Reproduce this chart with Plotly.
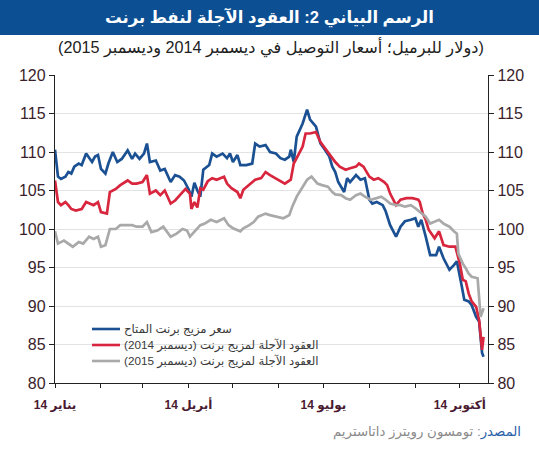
import plotly.graph_objects as go

# ---- data ----
blue_dates = [
    "2014-01-01","2014-01-03","2014-01-05","2014-01-08","2014-01-10","2014-01-12","2014-01-14","2014-01-17","2014-01-19","2014-01-22","2014-01-26","2014-01-28","2014-01-30",
    "2014-02-01","2014-02-04","2014-02-06","2014-02-09","2014-02-12","2014-02-15","2014-02-19","2014-02-22","2014-02-24","2014-02-27",
    "2014-03-02","2014-03-04","2014-03-06","2014-03-10","2014-03-13","2014-03-16","2014-03-20","2014-03-23","2014-03-26","2014-03-29",
    "2014-04-01","2014-04-03","2014-04-05","2014-04-07","2014-04-09","2014-04-11","2014-04-15","2014-04-17","2014-04-20","2014-04-24","2014-04-27","2014-04-29",
    "2014-05-01","2014-05-04","2014-05-06","2014-05-10","2014-05-14","2014-05-16","2014-05-19","2014-05-23","2014-05-26","2014-05-30",
    "2014-06-02","2014-06-05","2014-06-08","2014-06-09","2014-06-11","2014-06-13","2014-06-17","2014-06-20","2014-06-22","2014-06-26","2014-06-29",
    "2014-07-02","2014-07-05","2014-07-07","2014-07-09","2014-07-11","2014-07-15","2014-07-17","2014-07-19","2014-07-23","2014-07-26","2014-07-29",
    "2014-08-01","2014-08-03","2014-08-06","2014-08-10","2014-08-12","2014-08-15","2014-08-19","2014-08-22","2014-08-25","2014-08-29",
    "2014-09-01","2014-09-03","2014-09-05","2014-09-08","2014-09-11","2014-09-15","2014-09-17","2014-09-20","2014-09-24","2014-09-27","2014-09-29",
    "2014-10-02","2014-10-04","2014-10-07","2014-10-09","2014-10-12","2014-10-14","2014-10-16","2014-10-17",
]
blue_values = [
    110.3, 106.8, 106.5, 106.8, 107.4, 107.2, 108.1, 108.5, 108.3, 109.8, 108.7, 109.4, 109.6,
    107.8, 107.2, 108.5, 110.0, 108.7, 109.1, 110.2, 109.1, 109.8, 109.1,
    109.8, 111.1, 108.7, 108.9, 107.6, 107.8, 106.1, 107.0, 106.8, 106.3,
    105.2, 104.2, 106.0, 105.0, 104.2, 107.7, 108.3, 109.8, 109.4, 109.8, 109.2, 109.8,
    108.7, 109.6, 108.3, 108.3, 108.5, 111.1, 110.7, 110.9, 110.0, 109.8,
    109.2, 109.0, 109.4, 110.3, 108.7, 112.0, 113.7, 115.5, 114.2, 113.3, 111.1,
    110.3, 109.4, 108.1, 107.4, 106.1, 104.8, 106.6, 106.1, 107.0, 106.4, 106.6,
    103.8, 103.3, 103.5, 103.1, 102.3, 100.5, 99.0, 100.3, 101.0, 101.2,
    101.4, 100.3, 101.2, 99.0, 96.6, 96.6, 97.7, 96.2, 94.7, 95.3, 95.8,
    92.9, 90.8, 90.6, 90.1, 88.6, 88.0, 83.9, 83.4,
]

red_dates = [
    "2014-01-01","2014-01-03","2014-01-05","2014-01-08","2014-01-10","2014-01-12","2014-01-15","2014-01-19","2014-01-22","2014-01-25","2014-01-27","2014-01-30",
    "2014-02-01","2014-02-05","2014-02-07","2014-02-11","2014-02-14","2014-02-19","2014-02-22","2014-02-25",
    "2014-03-01","2014-03-04","2014-03-06","2014-03-10","2014-03-13","2014-03-16","2014-03-20","2014-03-23","2014-03-26","2014-03-30",
    "2014-04-02","2014-04-03","2014-04-05","2014-04-07","2014-04-09","2014-04-11","2014-04-14","2014-04-17","2014-04-20","2014-04-25","2014-04-27","2014-04-30",
    "2014-05-04","2014-05-06","2014-05-08","2014-05-12","2014-05-16","2014-05-20","2014-05-23","2014-05-26","2014-05-30",
    "2014-06-02","2014-06-05","2014-06-09","2014-06-11","2014-06-14","2014-06-17","2014-06-19","2014-06-22","2014-06-26","2014-06-29",
    "2014-07-02","2014-07-06","2014-07-09","2014-07-12","2014-07-16","2014-07-19","2014-07-23","2014-07-25","2014-07-28",
    "2014-08-01","2014-08-04","2014-08-07","2014-08-11","2014-08-13","2014-08-15","2014-08-19","2014-08-22","2014-08-26","2014-08-30",
    "2014-09-03","2014-09-04","2014-09-06","2014-09-08","2014-09-10","2014-09-14","2014-09-17","2014-09-20","2014-09-24","2014-09-28",
    "2014-10-01","2014-10-03","2014-10-05","2014-10-07","2014-10-09","2014-10-12","2014-10-14","2014-10-16","2014-10-17",
]
red_values = [
    106.3, 103.5, 103.1, 103.5, 103.1, 102.6, 102.4, 102.6, 103.5, 103.3, 103.1, 103.5,
    102.2, 102.0, 104.8, 105.2, 105.7, 106.3, 105.9, 105.9,
    106.1, 107.0, 104.6, 105.0, 104.4, 105.0, 103.3, 103.7, 104.4, 105.2,
    104.6, 102.6, 103.5, 102.8, 105.3, 105.1, 106.2, 106.6, 106.4, 106.8, 105.9, 105.3,
    104.8, 104.0, 105.1, 105.7, 106.4, 106.6, 107.4, 107.0, 106.6,
    106.2, 105.9, 106.4, 108.5, 109.6, 110.7, 112.4, 112.4, 112.6, 111.3,
    110.5, 109.4, 108.7, 108.1, 107.7, 107.9, 108.1, 108.5, 108.1,
    106.8, 106.4, 106.6, 106.1, 105.7, 104.6, 103.1, 103.8, 104.0, 104.0,
    103.8, 103.5, 102.0, 101.2, 99.9, 98.8, 99.7, 97.9, 97.7, 97.7,
    95.5, 93.4, 93.2, 91.6, 90.6, 89.9, 88.2, 84.3, 86.0,
]

gray_dates = [
    "2014-01-01","2014-01-03","2014-01-07","2014-01-10","2014-01-13","2014-01-17","2014-01-20","2014-01-24","2014-01-27","2014-01-30",
    "2014-02-01","2014-02-04","2014-02-07","2014-02-11","2014-02-14","2014-02-18","2014-02-22","2014-02-25",
    "2014-03-01","2014-03-04","2014-03-07","2014-03-11","2014-03-15","2014-03-20","2014-03-24","2014-03-28","2014-03-31",
    "2014-04-02","2014-04-06","2014-04-09","2014-04-12","2014-04-16","2014-04-20","2014-04-25","2014-04-28",
    "2014-05-01","2014-05-06","2014-05-08","2014-05-12","2014-05-15","2014-05-18","2014-05-23","2014-05-26","2014-05-31",
    "2014-06-04","2014-06-08","2014-06-10","2014-06-13","2014-06-17","2014-06-20","2014-06-23","2014-06-27","2014-06-30",
    "2014-07-04","2014-07-07","2014-07-09","2014-07-13","2014-07-16","2014-07-19","2014-07-23","2014-07-26","2014-07-29",
    "2014-08-02","2014-08-05","2014-08-09","2014-08-12","2014-08-15","2014-08-19","2014-08-22","2014-08-25","2014-08-29",
    "2014-09-01","2014-09-05","2014-09-08","2014-09-11","2014-09-15","2014-09-17","2014-09-20","2014-09-24","2014-09-27","2014-09-29","2014-09-30",
    "2014-10-03","2014-10-05","2014-10-07","2014-10-09","2014-10-13","2014-10-15","2014-10-17",
]
gray_values = [
    99.7, 98.1, 98.5, 98.1, 97.7, 98.3, 98.1, 99.0, 98.7, 99.0,
    97.7, 97.9, 100.0, 100.0, 100.5, 100.5, 100.5, 100.3,
    100.3, 100.9, 99.6, 99.8, 100.3, 99.0, 99.4, 100.0, 99.8,
    99.0, 99.8, 100.5, 100.7, 101.2, 100.9, 101.4, 100.5,
    100.1, 99.7, 100.1, 100.5, 100.9, 101.6, 102.0, 101.8, 101.6,
    101.4, 101.8, 102.9, 104.2, 105.5, 106.4, 106.8, 105.9, 105.7,
    105.5, 104.8, 104.5, 104.4, 104.0, 103.8, 104.4, 104.6, 104.2,
    103.8, 104.0, 104.2, 103.8, 103.3, 103.1, 103.1, 102.9, 103.1,
    102.7, 102.0, 101.6, 100.7, 101.0, 101.2, 100.7, 100.3, 99.7, 99.4, 96.8,
    95.5, 94.9, 94.2, 93.8, 93.6, 88.6, 89.7,
]

series_names = [
    "سعر مزيج برنت المتاح",
    "\u200fالعقود الآجلة لمزيج برنت (ديسمبر 2014)\u200f",
    "\u200fالعقود الآجلة لمزيج برنت (ديسمبر 2015)\u200f",
]
series_colors = ["#1b5193", "#d7263d", "#a9a9a9"]

month_ticks = ["2014-01-01","2014-02-01","2014-03-01","2014-04-01","2014-05-01","2014-06-01",
               "2014-07-01","2014-08-01","2014-09-01","2014-10-01"]
month_labels = ["يناير 14", "", "", "أبريل 14", "", "", "يوليو 14", "", "", "أكتوبر 14"]
y_ticks = [80, 85, 90, 95, 100, 105, 110, 115, 120]

title_text = "الرسم البياني 2: العقود الآجلة لنفط برنت"
subtitle_text = "(دولار للبرميل؛ أسعار التوصيل في ديسمبر 2014 وديسمبر 2015)"
source_label = "المصدر"
source_text = "تومسون رويترز داتاستريم"

FONT = "Liberation Sans, Arial, DejaVu Sans, sans-serif"
TICK_COLOR = "#3a1e2c"

# pixel geometry of the plot area
PL, PR, PT, PB = 55, 488, 75, 383
PW, PH = PR - PL, PB - PT


def px(x):
    return (x - PL) / PW


def py(y):
    return (PB - y) / PH


fig = go.Figure()
for d, v, name, col in zip([blue_dates, red_dates, gray_dates],
                           [blue_values, red_values, gray_values],
                           series_names, series_colors):
    fig.add_trace(go.Scatter(x=d, y=v, mode="lines", name=name, showlegend=False,
                             line=dict(color=col, width=2.7), hoverinfo="skip"))
# invisible trace to carry the right-hand axis
fig.add_trace(go.Scatter(x=[blue_dates[0]], y=[blue_values[0]], yaxis="y2", mode="lines",
                         line=dict(width=0), showlegend=False, hoverinfo="skip", opacity=0))

fig.update_layout(
    width=539, height=450,
    margin=dict(l=PL, r=539 - PR, t=PT, b=450 - PB, autoexpand=False),
    paper_bgcolor="white", plot_bgcolor="white",
    font=dict(family=FONT, color=TICK_COLOR),
    showlegend=False,
    hovermode=False,
    xaxis=dict(type="date", range=["2014-01-01", "2014-10-20"],
               tickmode="array", tickvals=month_ticks,
               ticktext=["<b>" + t + "</b>" if t else "" for t in month_labels],
               ticks="outside", ticklen=4, tickcolor="#222", tickwidth=1,
               showline=True, linecolor="#222", linewidth=1.2,
               showgrid=False, zeroline=False, ticklabelstandoff=6,
               tickfont=dict(size=12, color="#4a1a30", family=FONT), tickangle=0),
    yaxis=dict(range=[80, 120], tickvals=y_ticks, ticks="outside", ticklen=5,
               tickcolor="#222", showline=True, linecolor="#222", linewidth=1.2,
               showgrid=True, gridcolor="#e3e3e3", gridwidth=1, zeroline=False,
               tickfont=dict(size=16, color=TICK_COLOR)),
    yaxis2=dict(range=[80, 120], tickvals=y_ticks, overlaying="y", side="right",
                ticks="outside", ticklen=5, tickcolor="#222", showline=True,
                linecolor="#222", linewidth=1.2, showgrid=False, zeroline=False,
                tickfont=dict(size=16, color=TICK_COLOR)),
)

# legend drawn as keys + labels inside the plot area
legend_rows_y = [329, 345, 361]
for name, col, ly in zip(series_names, series_colors, legend_rows_y):
    fig.add_shape(type="line", xref="paper", yref="paper", x0=px(92), x1=px(120),
                  y0=py(ly), y1=py(ly), line=dict(color=col, width=2.6))
    fig.add_annotation(xref="paper", yref="paper", x=px(122), y=py(ly), text=name,
                       showarrow=False, xanchor="left", yanchor="middle",
                       font=dict(size=11.7, color="#3a3a3a", family=FONT))

# title band
fig.add_shape(type="rect", xref="paper", yref="paper", x0=-0.5, x1=1.5,
              y0=py(35), y1=1.5, fillcolor="#0c4f93", line=dict(width=0), layer="above")
fig.add_annotation(xref="paper", yref="paper", x=px(269.5), y=py(17),
                   text="<b>" + title_text + "</b>", showarrow=False,
                   font=dict(size=16.5, color="white", family=FONT),
                   xanchor="center", yanchor="middle")
fig.add_annotation(xref="paper", yref="paper", x=px(271), y=py(47),
                   text=subtitle_text, showarrow=False,
                   font=dict(size=16.2, color="#222222", family=FONT),
                   xanchor="center", yanchor="middle")
fig.add_annotation(xref="paper", yref="paper", x=px(523), y=py(432),
                   text="<span style='color:#2a62a8'>" + source_label + "</span>: " + source_text,
                   showarrow=False, font=dict(size=13.3, color="#8a8a8a", family=FONT),
                   xanchor="right", yanchor="middle")

fig.write_html("out.html", config={"displayModeBar": False, "staticPlot": True},
               post_script="document.body.style.margin='0px';")
